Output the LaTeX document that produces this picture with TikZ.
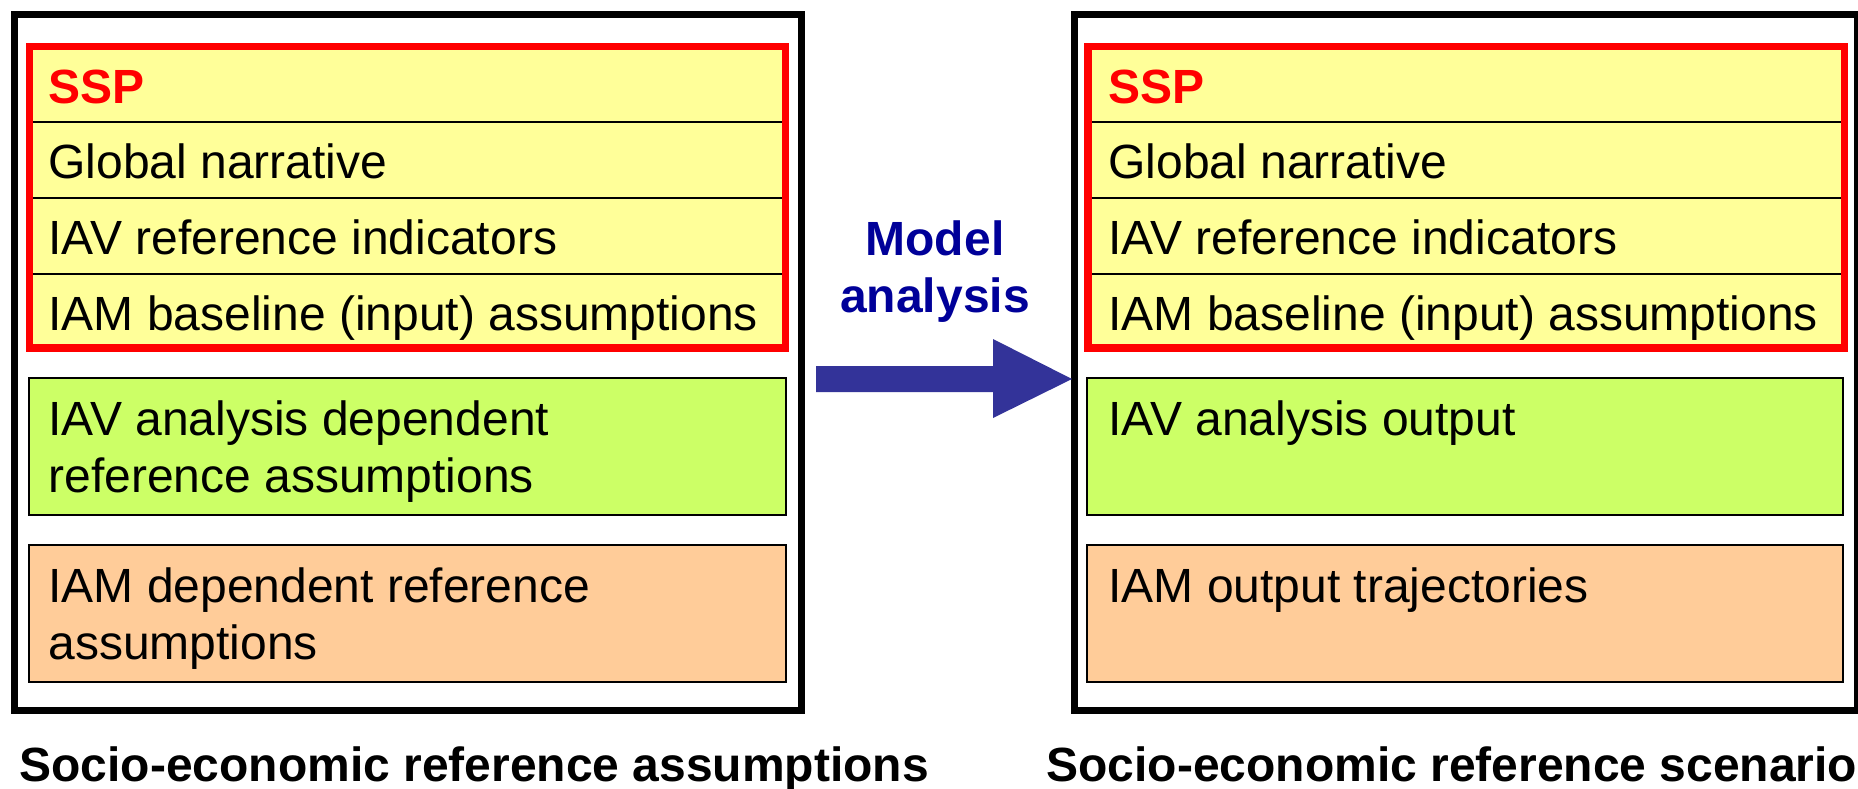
\documentclass[tikz,border=0pt]{standalone}
\usepackage{fontspec}
\setmainfont{Liberation Sans}
\usetikzlibrary{calc}

\definecolor{ssred}{HTML}{FF0000}
\definecolor{rowyellow}{HTML}{FFFF99}
\definecolor{limefill}{HTML}{CCFF66}
\definecolor{peachfill}{HTML}{FFCC99}
\definecolor{labelnavy}{HTML}{000099}
\definecolor{arrowblue}{HTML}{333399}

\begin{document}
\begin{tikzpicture}[x=0.5pt,y=-0.5pt,
  panel/.style={draw=black,line width=3.5pt,anchor=north west,inner sep=0pt,outer sep=0pt},
  sspbox/.style={draw=ssred,fill=rowyellow,line width=3.6pt,anchor=north west,inner sep=0pt,outer sep=0pt,
                 minimum height=150.75pt},
  rowrule/.style={draw=black,line width=1pt,shorten <=1.8pt,shorten >=1.8pt},
  infobox/.style={draw=black,line width=1.2pt,anchor=north west,inner sep=0pt,outer sep=0pt,
                  minimum height=68.5pt},
  txt/.style={anchor=base west,inner sep=0pt,font=\fontsize{24}{28.5}\selectfont},
  caption/.style={txt,font=\fontsize{24}{28.5}\selectfont\bfseries},
]
\clip (0,0) rectangle (1858,788);
\fill[white] (0,0) rectangle (1858,788);

% ---- left panel: reference assumptions ----
\node[panel,minimum width=393.5pt,minimum height=348pt] (L) at (14,14.5) {};
\node[sspbox,minimum width=378pt,draw=none] (sspL) at (29.5,46.5) {};
\draw[rowrule] (sspL.west |- 0,122) -- (sspL.east |- 0,122);
\draw[rowrule] (sspL.west |- 0,198) -- (sspL.east |- 0,198);
\draw[rowrule] (sspL.west |- 0,274) -- (sspL.east |- 0,274);
\draw[ssred,line width=3.6pt] (sspL.north west) rectangle (sspL.south east);
\node[txt,text=ssred,font=\fontsize{24}{28.5}\selectfont\bfseries] (sspLt) at (48,103) {SSP};
\node[txt] (gnL) at (48,178) {Global narrative};
\node[txt] (iavL) at (48,254) {IAV reference indicators};
\node[txt] (iamL) at (48,330) {IAM baseline (input) assumptions};

\node[infobox,fill=limefill,minimum width=378.5pt] (greenL) at (29,378) {};
\node[txt] (greenLt) at (48,435) {\begin{tabular}[t]{@{}l@{}}IAV analysis dependent\\ reference assumptions\end{tabular}};
\node[infobox,fill=peachfill,minimum width=378.5pt] (peachL) at (29,545) {};
\node[txt] (peachLt) at (48,602) {\begin{tabular}[t]{@{}l@{}}IAM dependent reference\\ assumptions\end{tabular}};

\node[caption] (capL) at (19,781) {Socio-economic reference assumptions};

% ---- right panel: reference scenario ----
\node[panel,minimum width=391.875pt,minimum height=348pt] (R) at (1074,14.5) {};
\node[sspbox,minimum width=378.25pt,draw=none] (sspR) at (1088,46.5) {};
\draw[rowrule] (sspR.west |- 0,122) -- (sspR.east |- 0,122);
\draw[rowrule] (sspR.west |- 0,198) -- (sspR.east |- 0,198);
\draw[rowrule] (sspR.west |- 0,274) -- (sspR.east |- 0,274);
\draw[ssred,line width=3.6pt] (sspR.north west) rectangle (sspR.south east);
\node[txt,text=ssred,font=\fontsize{24}{28.5}\selectfont\bfseries] (sspRt) at (1108,103) {SSP};
\node[txt] (gnR) at (1108,178) {Global narrative};
\node[txt] (iavR) at (1108,254) {IAV reference indicators};
\node[txt] (iamR) at (1108,330) {IAM baseline (input) assumptions};

\node[infobox,fill=limefill,minimum width=378pt] (greenR) at (1087,378) {};
\node[txt] (greenRt) at (1108,435) {IAV analysis output};
\node[infobox,fill=peachfill,minimum width=378pt] (peachR) at (1087,545) {};
\node[txt] (peachRt) at (1108,602) {IAM output trajectories};

\node[caption] (capR) at (1046,781) {Socio-economic reference scenario};

% ---- block arrow between the panels ----
\node[anchor=base,inner sep=0pt,text=labelnavy,font=\fontsize{24}{28.5}\selectfont\bfseries] (model)
  at (935,255) {\begin{tabular}[t]{@{}c@{}}Model\\ analysis\end{tabular}};
\coordinate (tail) at (816,379);
\coordinate (tip) at (1072,379);
\fill[arrowblue] ($(tail)+(0,-13)$) -- ($(tip)+(-79,-13)$) -- ($(tip)+(-79,-40)$) -- (tip)
  -- ($(tip)+(-79,39)$) -- ($(tip)+(-79,13)$) -- ($(tail)+(0,13)$) -- cycle;
\end{tikzpicture}
\end{document}
